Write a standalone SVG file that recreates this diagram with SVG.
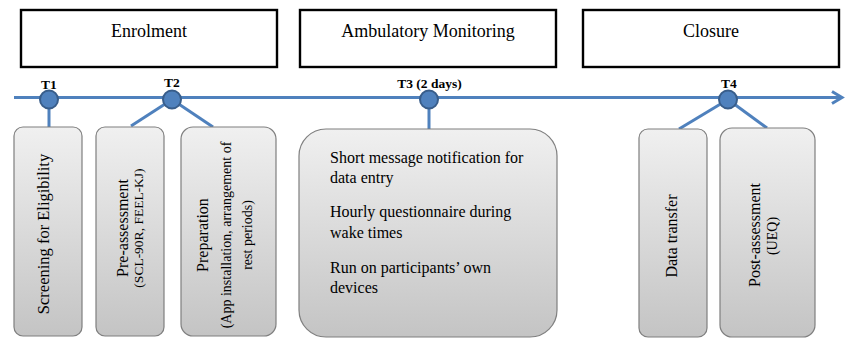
<svg xmlns="http://www.w3.org/2000/svg" width="849" height="340" viewBox="0 0 849 340">
<style>
.phase{fill:#ffffff;stroke:#000000;stroke-width:2.4}
.ptxt{font-family:"Liberation Serif",serif;font-size:18px;fill:#000;text-anchor:middle}
.card{fill:url(#g);stroke:#7f7f7f;stroke-width:1.2}
.t{font-family:"Liberation Serif",serif;font-size:16px;fill:#000}
.s{font-family:"Liberation Serif",serif;font-size:14px;fill:#000}
.lbl{font-family:"Liberation Serif",serif;font-size:13.5px;font-weight:bold;fill:#000;text-anchor:middle}
.conn{stroke:#4f81bd;stroke-width:3;fill:none}
.dot{fill:#4f81bd;stroke:#385d8a;stroke-width:2}
</style>
<defs>
<linearGradient id="g" x1="0" y1="0" x2="0" y2="1">
<stop offset="0" stop-color="#f0f0f0"/>
<stop offset="1" stop-color="#c4c4c4"/>
</linearGradient>
</defs>
<g id="phase-enrolment"><rect class="phase" x="21" y="10" width="256" height="57"/><text class="ptxt" x="149" y="37">Enrolment</text></g>
<g id="phase-ambulatory"><rect class="phase" x="300" y="10" width="256" height="57"/><text class="ptxt" x="428" y="37">Ambulatory Monitoring</text></g>
<g id="phase-closure"><rect class="phase" x="583" y="10" width="256" height="57"/><text class="ptxt" x="711" y="37">Closure</text></g>
<g id="connectors">
<line class="conn" x1="14" y1="97.5" x2="841" y2="97.5"/>
<polyline class="conn" points="832,91.5 842,97.5 832,103.5"/>
<line class="conn" x1="49" y1="99.5" x2="49" y2="127"/>
<line class="conn" x1="172" y1="99.5" x2="131" y2="126"/>
<line class="conn" x1="172" y1="99.5" x2="213" y2="127"/>
<line class="conn" x1="429" y1="99.5" x2="429" y2="129"/>
<line class="conn" x1="728" y1="99.5" x2="679" y2="129"/>
<line class="conn" x1="728" y1="99.5" x2="767" y2="128"/>
</g>
<g id="T1"><circle class="dot" cx="49" cy="99.5" r="9"/><text class="lbl" x="49" y="89">T1</text></g>
<g id="T2"><circle class="dot" cx="172" cy="99.5" r="9"/><text class="lbl" x="172" y="87">T2</text></g>
<g id="T3"><circle class="dot" cx="429" cy="99.5" r="9"/><text class="lbl" x="429.5" y="88">T3 (2 days)</text></g>
<g id="T4"><circle class="dot" cx="728" cy="99.5" r="9"/><text class="lbl" x="729" y="88">T4</text></g>
<g id="screening"><rect class="card" x="14" y="127" width="68" height="209" rx="9"/>
<text class="t" style="font-size:16.5px" text-anchor="middle" transform="translate(48.5,234) rotate(-90)">Screening for Eligibility</text></g>
<g id="pre-assessment"><rect class="card" x="96" y="127" width="68" height="209" rx="9"/>
<text class="t" text-anchor="middle" transform="translate(128,228) rotate(-90)">Pre-assessment</text>
<text class="s" style="font-size:13.5px" text-anchor="middle" transform="translate(143,228) rotate(-90)">(SCL-90R, FEEL-KJ)</text></g>
<g id="preparation"><rect class="card" x="181" y="127" width="95" height="209" rx="12"/>
<text class="t" text-anchor="middle" transform="translate(208,235) rotate(-90)">Preparation</text>
<text class="s" text-anchor="middle" transform="translate(231,235) rotate(-90)">(App installation, arrangement of</text>
<text class="s" text-anchor="middle" transform="translate(252,235) rotate(-90)">rest periods)</text></g>
<g id="monitoring"><rect class="card" x="299" y="129" width="258" height="208" rx="27"/>
<text class="t" x="330" y="163">Short message notification for</text>
<text class="t" x="330" y="183">data entry</text>
<text class="t" x="330" y="217">Hourly questionnaire during</text>
<text class="t" x="330" y="238">wake times</text>
<text class="t" x="330" y="273">Run on participants’ own</text>
<text class="t" x="330" y="293">devices</text></g>
<g id="data-transfer"><rect class="card" x="639" y="129" width="68" height="208" rx="9"/>
<text class="t" text-anchor="middle" transform="translate(677,236) rotate(-90)">Data transfer</text></g>
<g id="post-assessment"><rect class="card" x="720" y="128" width="95" height="209" rx="12"/>
<text class="t" text-anchor="middle" transform="translate(760,235) rotate(-90)">Post-assessment</text>
<text class="s" text-anchor="middle" transform="translate(777,236) rotate(-90)">(UEQ)</text></g>
</svg>
